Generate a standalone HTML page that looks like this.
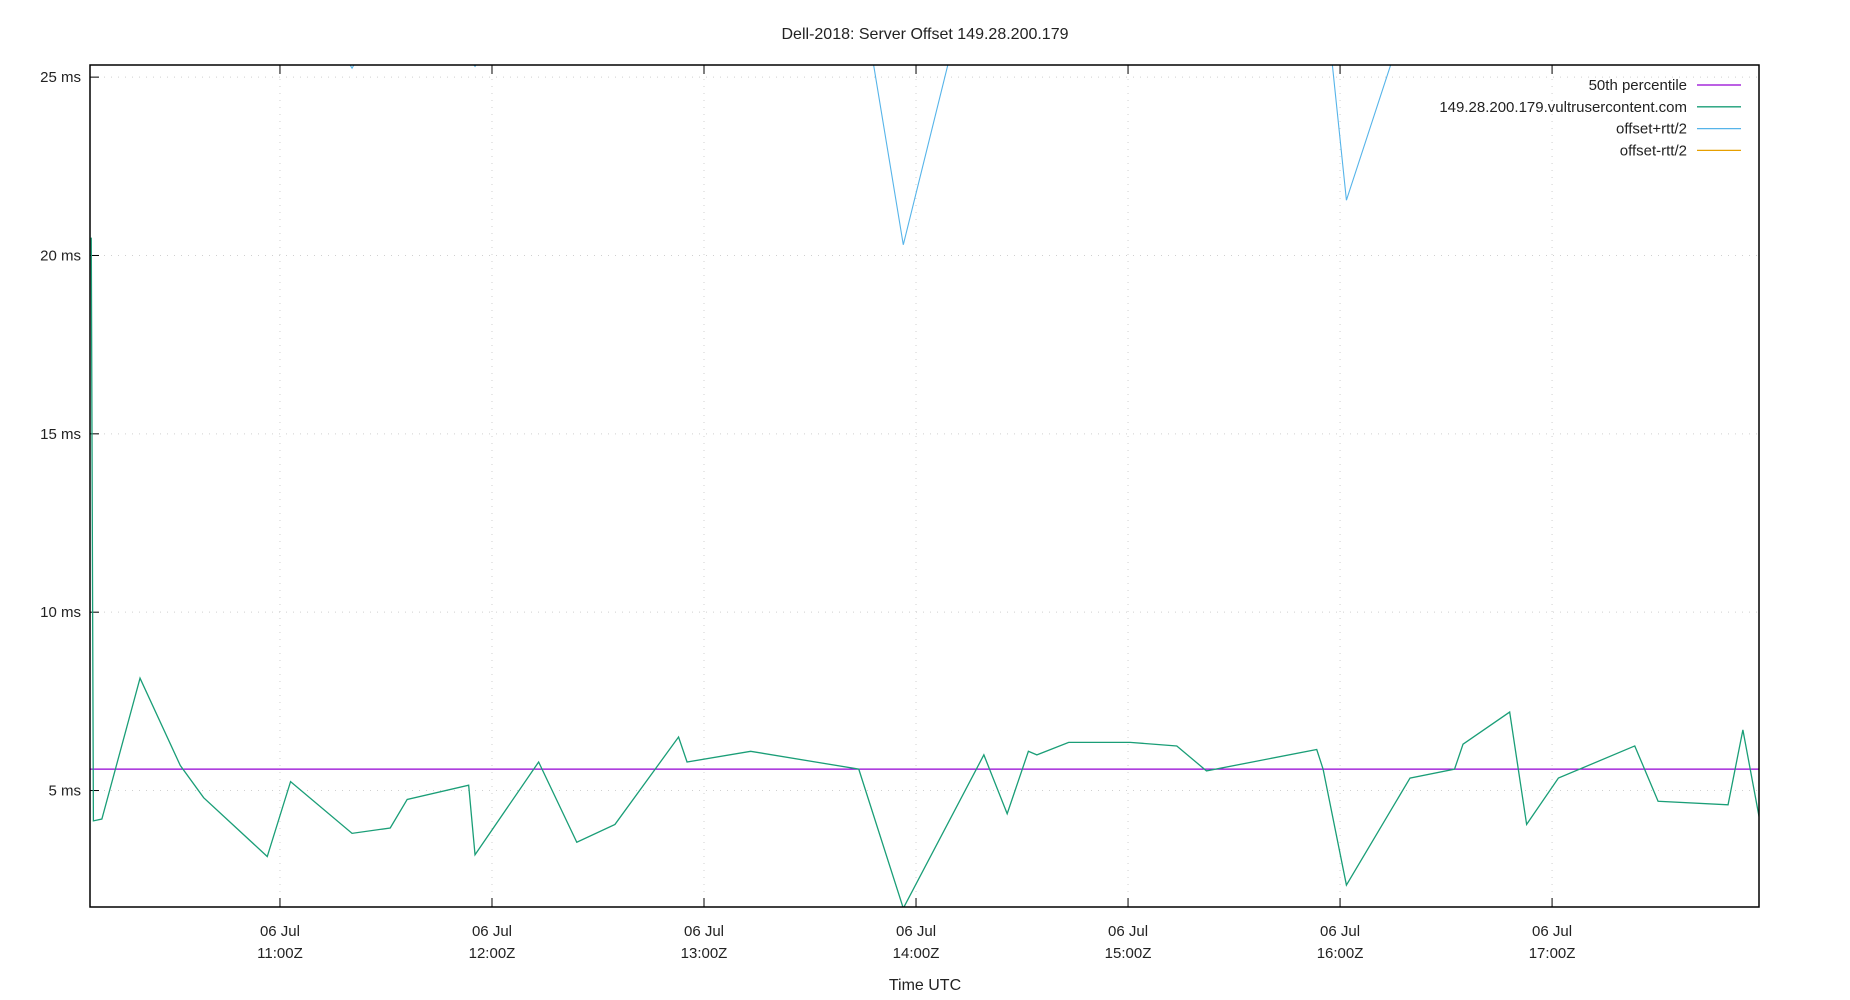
<!DOCTYPE html>
<html><head><meta charset="utf-8"><style>
html,body{margin:0;padding:0;background:#fff;}
svg{display:block;font-family:"Liberation Sans","DejaVu Sans",sans-serif;}
</style></head><body>
<svg id="chart" width="1850" height="1000" viewBox="0 0 1850 1000" xmlns="http://www.w3.org/2000/svg">
<rect width="1850" height="1000" fill="#fff"/>
<text x="925" y="39" text-anchor="middle" font-size="16" fill="#222">Dell-2018: Server Offset 149.28.200.179</text>
<defs><clipPath id="plotclip"><rect x="90" y="65" width="1669" height="842"/></clipPath></defs>
<g id="grid"></g>
<g id="axes"></g>
<g id="series" clip-path="url(#plotclip)"></g>
<rect x="90" y="65" width="1669" height="842" fill="none" stroke="#000" stroke-width="1.5"/>
<text x="925" y="990" text-anchor="middle" font-size="16" fill="#222">Time UTC</text>
<g id="legend"></g>
</svg>
<script>
// data (hours UTC on 06 Jul, values in ms)
const offsetTimes = [10.11,10.12,10.16,10.34,10.53,10.64,10.94,11.05,11.34,11.52,11.60,11.89,11.92,12.22,12.40,12.58,12.88,12.92,13.22,13.73,13.94,14.32,14.43,14.53,14.57,14.72,15.01,15.23,15.37,15.89,15.92,16.03,16.33,16.54,16.58,16.80,16.88,17.03,17.39,17.50,17.83,17.90,17.98];
const offsetValues = [20.5,4.15,4.2,8.15,5.7,4.8,3.15,5.25,3.8,3.95,4.75,5.15,3.2,5.8,3.55,4.05,6.5,5.8,6.1,5.6,1.7,6.0,4.35,6.1,6.0,6.35,6.35,6.25,5.55,6.15,5.6,2.35,5.35,5.6,6.3,7.2,4.05,5.35,6.25,4.7,4.6,6.7,4.15];
const plusTimes = [10.11,11.05,11.34,11.60,11.92,12.22,13.74,13.94,14.24,15.94,16.03,16.33,17.98];
const plusValues = [30,28,25.25,28,25.3,28,27.5,20.3,27.5,26.7,21.55,27,28];
const medianValue = 5.6;
const yTicks = [5,10,15,20,25];
const xTickHours = [11,12,13,14,15,16,17];
const xTickLabels = ["11:00Z","12:00Z","13:00Z","14:00Z","15:00Z","16:00Z","17:00Z"];
const legendLabels = ["50th percentile","149.28.200.179.vultrusercontent.com","offset+rtt/2","offset-rtt/2"];
const legendColors = ["#9400d3","#1a9e77","#56b4e9","#e69f00"];

const L=90,R=1759,T=65,B=907;
const xMin=10.104,xMax=17.976,yMin=1.735,yMax=25.34;
const xs=h=>L+(h-xMin)/(xMax-xMin)*(R-L);
const ys=v=>B-(v-yMin)/(yMax-yMin)*(B-T);
const NS="http://www.w3.org/2000/svg";
function mk(tag,attrs,parent){const e=document.createElementNS(NS,tag);for(const k in attrs)e.setAttribute(k,attrs[k]);parent.appendChild(e);return e;}
const grid=document.getElementById('grid'),axes=document.getElementById('axes'),series=document.getElementById('series'),legend=document.getElementById('legend');

yTicks.forEach(v=>{
  const y=ys(v);
  const g=mk('line',{x1:L,x2:R,y1:y,y2:y,stroke:'#d0d0d0','stroke-dasharray':'1,6'},grid);
  
  
  const t=mk('line',{x1:L,x2:L+9,y1:y,y2:y,stroke:'#000'},axes);
  
  
  const lb=mk('text',{x:L-9,y:y+5,'text-anchor':'end','font-size':'15',fill:'#222'},axes);
  lb.textContent=v+' ms';
  
  
});
xTickHours.forEach((h,i)=>{
  const x=xs(h);
  const g=mk('line',{x1:x,x2:x,y1:T,y2:B,stroke:'#d0d0d0','stroke-dasharray':'1,6'},grid);
  
  
  const t=mk('line',{x1:x,x2:x,y1:B-9,y2:B,stroke:'#000'},axes);
  
  
  const t2=mk('line',{x1:x,x2:x,y1:T,y2:T+9,stroke:'#000'},axes);
  
  
  const a=mk('text',{x:x,y:936,'text-anchor':'middle','font-size':'15',fill:'#222'},axes);
  a.textContent='06 Jul';
  
  
  const b=mk('text',{x:x,y:958,'text-anchor':'middle','font-size':'15',fill:'#222'},axes);
  b.textContent=xTickLabels[i];
  
  
});

const med=mk('line',{x1:L,x2:R,y1:ys(medianValue),y2:ys(medianValue),stroke:legendColors[0],'stroke-width':1.3},series);


const p1=mk('polyline',{points:offsetTimes.map((t,i)=>xs(t)+','+ys(offsetValues[i])).join(' '),fill:'none',stroke:legendColors[1],'stroke-width':1.3},series);


const p2=mk('polyline',{points:plusTimes.map((t,i)=>xs(t)+','+ys(plusValues[i])).join(' '),fill:'none',stroke:legendColors[2],'stroke-width':1.1},series);



legendLabels.forEach((lab,i)=>{
  const y=85+i*21.8;
  const t=mk('text',{x:1687,y:y+5,'text-anchor':'end','font-size':'15',fill:'#222'},legend);
  t.textContent=lab;
  
  
  const l=mk('line',{x1:1697,x2:1741,y1:y,y2:y,stroke:legendColors[i],'stroke-width':1.3},legend);
  
  
});
</script>
</body></html>
